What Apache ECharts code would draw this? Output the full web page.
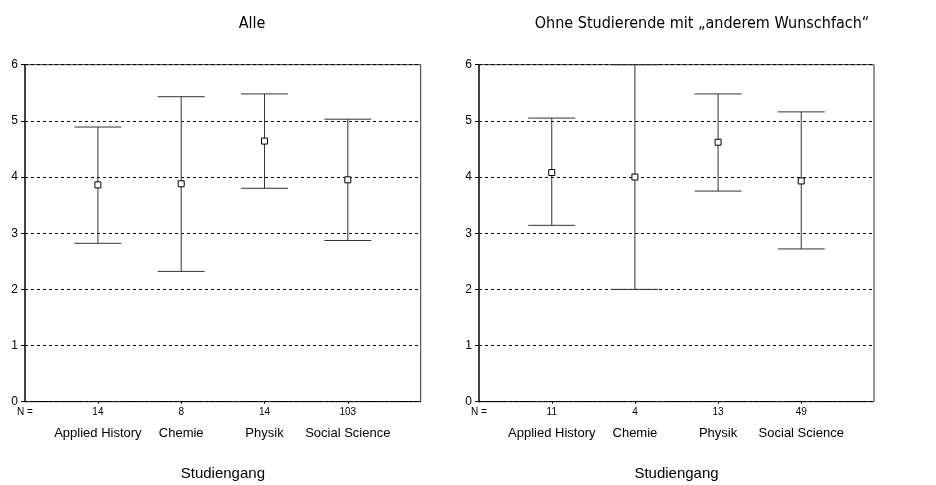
<!DOCTYPE html>
<html>
<head>
<meta charset="utf-8">
<script src="https://cdn.jsdelivr.net/npm/echarts@6/dist/echarts.min.js"></script>
<style>
  html, body { margin: 0; padding: 0; background: #fff; }
  #chart { width: 936px; height: 485px; }
</style>
</head>
<body>
<div id="chart"></div>
<script>
// Studiengänge (x categories)
const categories = ['Applied History', 'Chemie', 'Physik', 'Social Science'];
const yTicks = [0, 1, 2, 3, 4, 5, 6];

// Panel "Alle"
const nAlle = [14, 8, 14, 103];
const meanAlle = [3.86, 3.88, 4.64, 3.95];
const lowAlle = [2.82, 2.32, 3.80, 2.87];
const highAlle = [4.89, 5.43, 5.48, 5.03];

// Panel "Ohne Studierende mit anderem Wunschfach"
const nOhne = [11, 4, 13, 49];
const meanOhne = [4.08, 4.00, 4.62, 3.93];
const lowOhne = [3.14, 2.00, 3.75, 2.72];
const highOhne = [5.05, 6.00, 5.48, 5.16];

const titles = ['Alle', 'Ohne Studierende mit \u201eanderem Wunschfach\u201c'];

const FONT = 'Liberation Sans, Arial, sans-serif';
const TITLE_FONT = 'DejaVu Sans Condensed, DejaVu Sans, Verdana, sans-serif';
const X_MIN = 0.125, X_MAX = 4.875;

const chart = echarts.init(document.getElementById('chart'), null, { renderer: 'canvas' });

const grids = [
  { left: 25, right: 515.3, top: 64.7, bottom: 83.3 },
  { left: 479, right: 62, top: 64.7, bottom: 83.3 }
];

function xAxisFor(idx, ns) {
  return {
    type: 'value', gridIndex: idx, min: X_MIN, max: X_MAX,
    name: 'Studiengang', nameLocation: 'middle', nameGap: 65,
    nameTextStyle: { fontFamily: FONT, fontSize: 15, color: '#000' },
    splitLine: { show: false },
    axisLine: { show: true, lineStyle: { color: '#000', width: 1, type: [3, 2] } },
    axisTick: { show: true, customValues: [1, 2, 3, 4], length: 2, inside: false,
                lineStyle: { color: '#000' } },
    axisLabel: {
      show: true, margin: 5, showMinLabel: true, showMaxLabel: true, hideOverlap: false,
      customValues: [X_MIN, 1, 2, 3, 4],
      formatter: function (v) {
        if (v < 0.5) return '{n|N =}\n{c| }';
        const i = Math.round(v) - 1;
        return '{n|' + ns[i] + '}\n{c|' + categories[i] + '}';
      },
      rich: {
        n: { fontFamily: FONT, fontSize: 10, color: '#000', lineHeight: 12, align: 'center' },
        c: { fontFamily: FONT, fontSize: 13, color: '#000', lineHeight: 29, align: 'center' }
      }
    }
  };
}

function yAxisFor(idx) {
  return {
    type: 'value', gridIndex: idx, min: 0, max: 6, interval: 1,
    axisLine: { show: true, lineStyle: { color: '#222', width: 1.5 } },
    axisTick: { show: true, length: 4, lineStyle: { color: '#000' } },
    axisLabel: { fontFamily: FONT, fontSize: 12, color: '#000', margin: 7 },
    splitLine: { show: true, lineStyle: { color: '#000', width: 1, type: [3, 3] } }
  };
}

function errorSeries(idx, lows, highs) {
  const data = categories.map((c, i) => [i + 1, lows[i], highs[i]]);
  return {
    type: 'custom', xAxisIndex: idx, yAxisIndex: idx, data: data, silent: true,
    clip: false,
    renderItem: function (params, api) {
      const x = api.value(0);
      const lo = api.coord([x, api.value(1)]);
      const hi = api.coord([x, api.value(2)]);
      const half = 23.5;
      const style = { stroke: '#333', lineWidth: 1 };
      return {
        type: 'group',
        children: [
          { type: 'line', shape: { x1: lo[0], y1: lo[1], x2: hi[0], y2: hi[1] }, style: style },
          { type: 'line', shape: { x1: lo[0] - half, y1: lo[1], x2: lo[0] + half, y2: lo[1] }, style: style },
          { type: 'line', shape: { x1: hi[0] - half, y1: hi[1], x2: hi[0] + half, y2: hi[1] }, style: style }
        ]
      };
    },
    z: 3
  };
}

function meanSeries(idx, means) {
  return {
    type: 'scatter', xAxisIndex: idx, yAxisIndex: idx, silent: true,
    data: means.map((m, i) => [i + 1, m]),
    symbol: 'rect', symbolSize: 6,
    itemStyle: { color: '#fff', borderColor: '#000', borderWidth: 1, opacity: 1 },
    z: 4
  };
}

chart.setOption({
  animation: false,
  backgroundColor: '#fff',
  title: [
    { text: titles[0], left: 247, top: 11, textAlign: 'center',
      textStyle: { fontFamily: TITLE_FONT, fontSize: 16, fontWeight: 'normal', color: '#000' } },
    { text: titles[1], left: 697, top: 11, textAlign: 'center',
      textStyle: { fontFamily: TITLE_FONT, fontSize: 16, fontWeight: 'normal', color: '#000' } }
  ],
  grid: grids.map(g => Object.assign({
    show: true, borderColor: '#333', borderWidth: 1, backgroundColor: 'transparent',
    containLabel: false, outerBoundsMode: 'none'
  }, g)),
  xAxis: [xAxisFor(0, nAlle), xAxisFor(1, nOhne)],
  yAxis: [yAxisFor(0), yAxisFor(1)],
  series: [
    errorSeries(0, lowAlle, highAlle),
    meanSeries(0, meanAlle),
    errorSeries(1, lowOhne, highOhne),
    meanSeries(1, meanOhne)
  ]
});
</script>
</body>
</html>
